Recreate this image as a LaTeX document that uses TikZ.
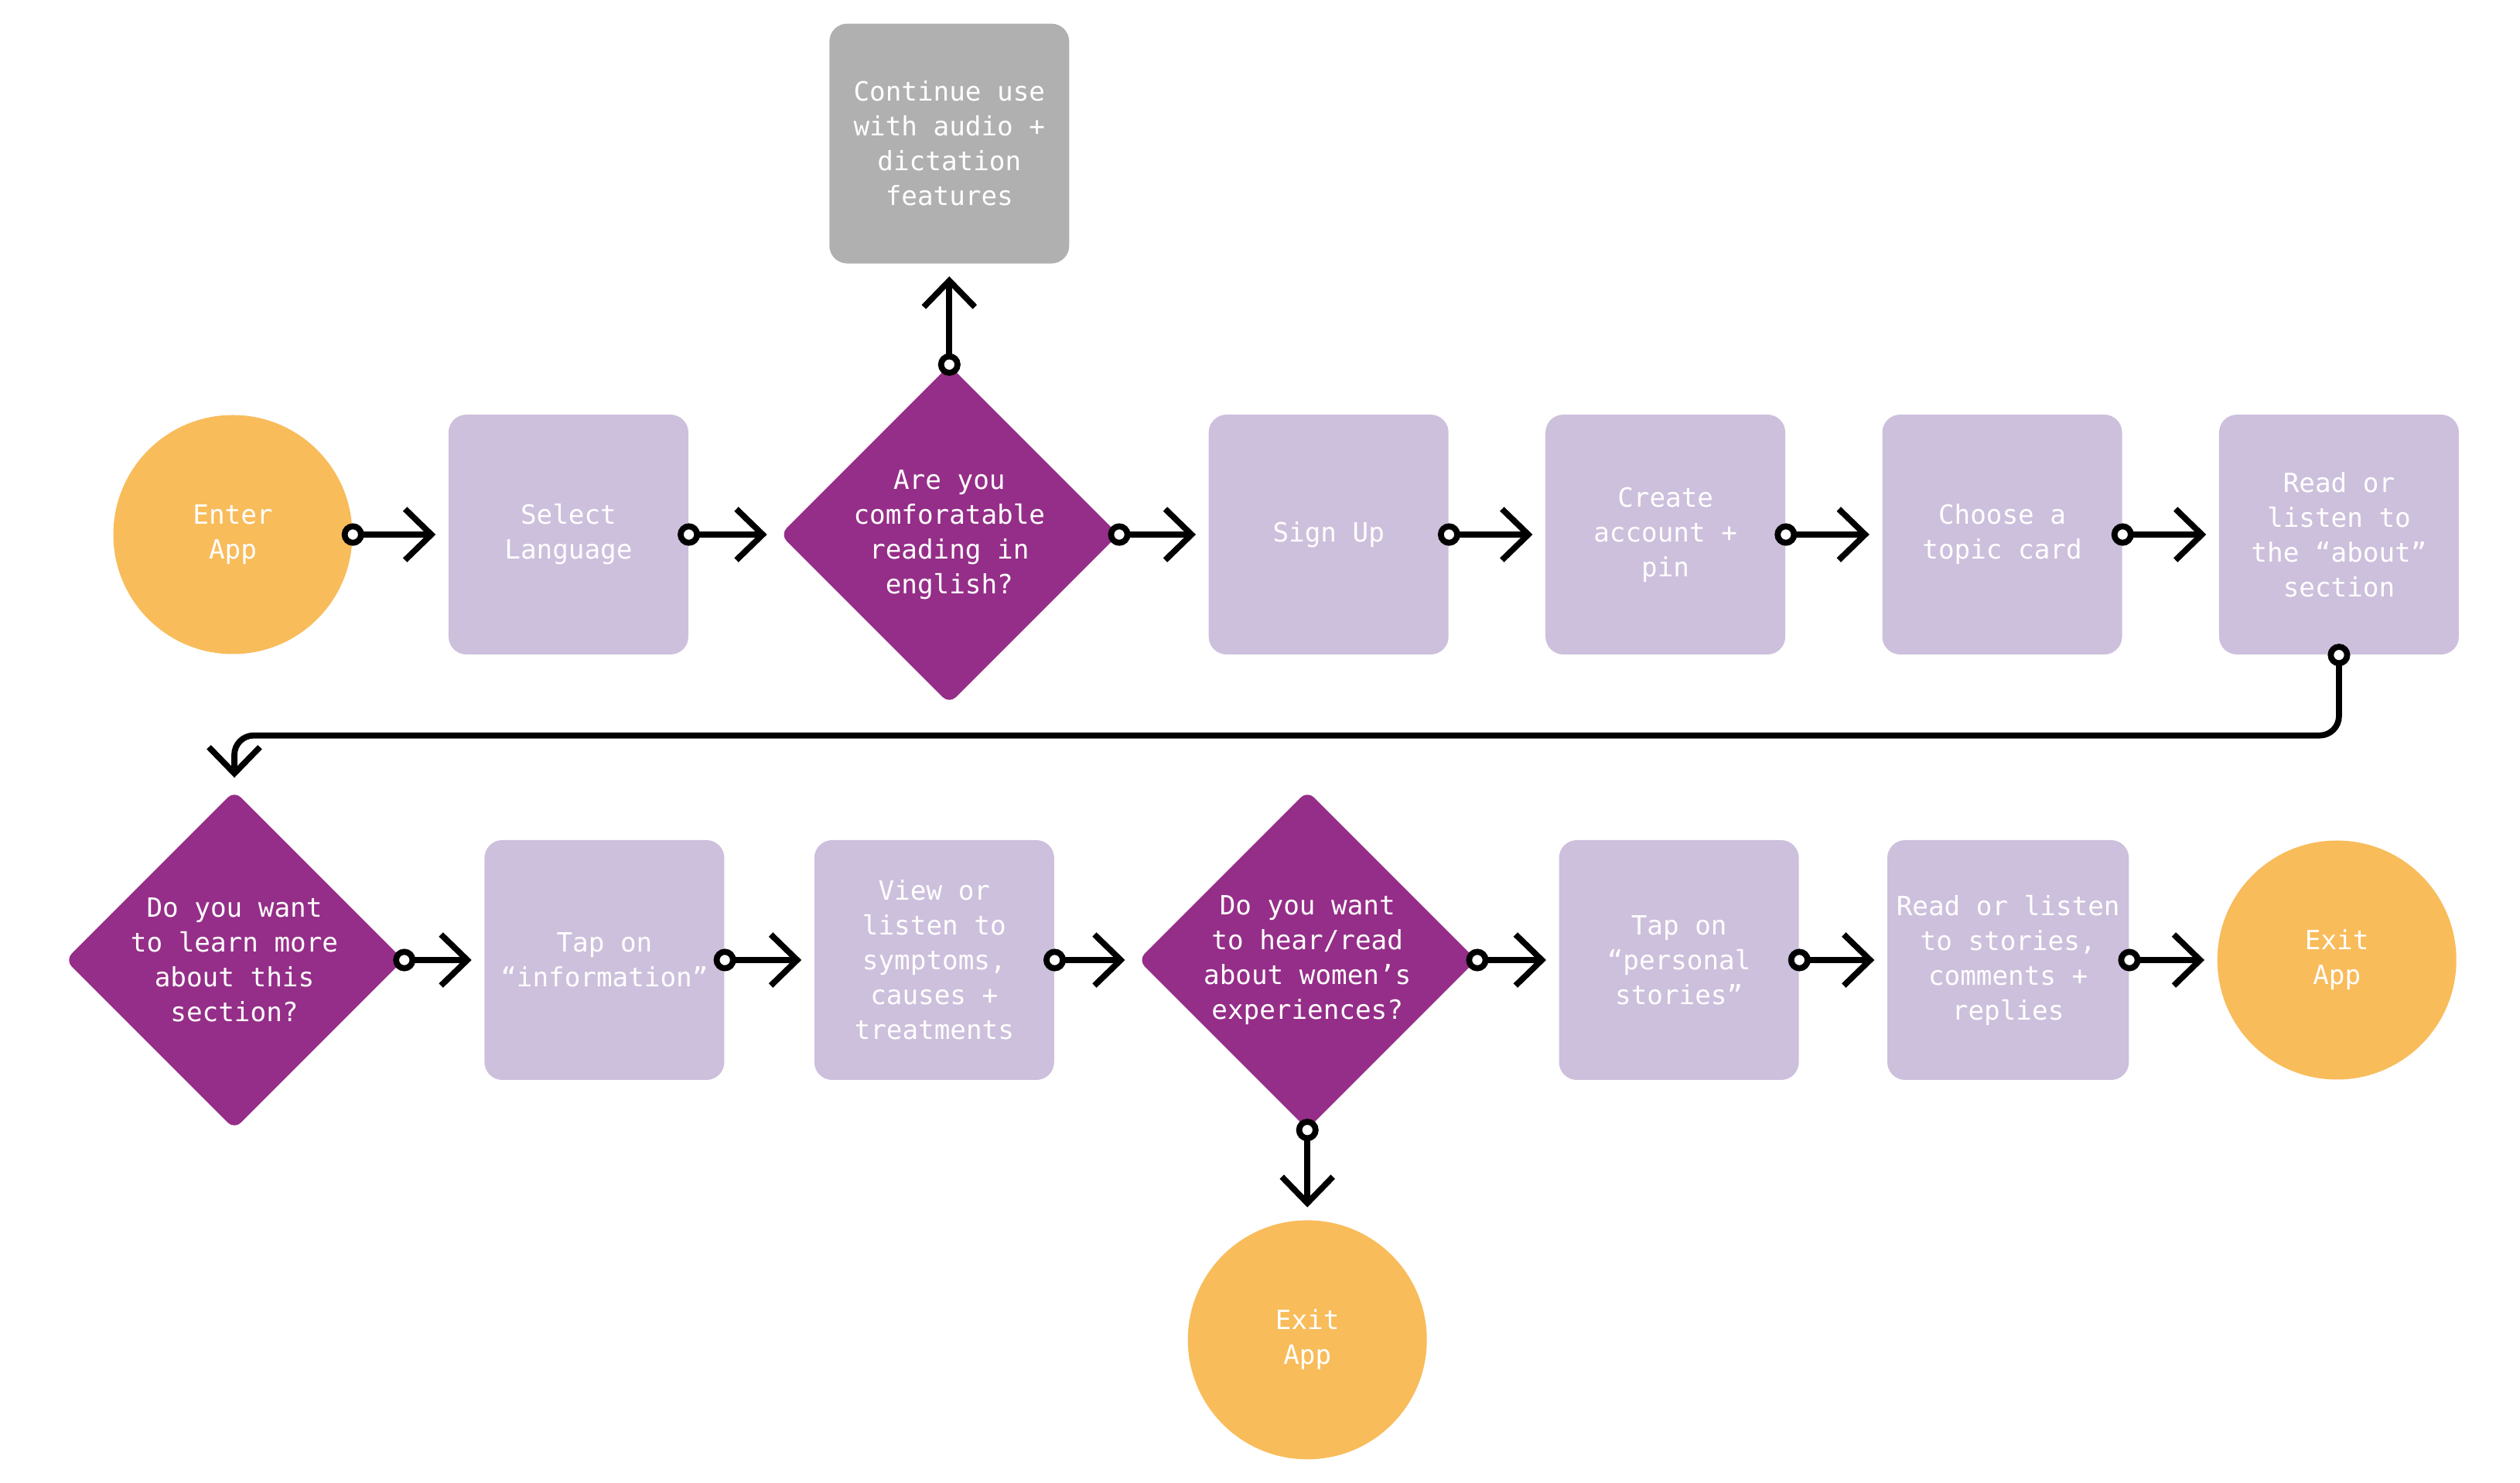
\documentclass[tikz,border=0pt]{standalone}
\usepackage{fontspec}
\setmonofont{DejaVu Sans Mono}
\usepackage{tikz}
\usetikzlibrary{arrows.meta,positioning,shapes.geometric}
\definecolor{appOrange}{HTML}{F8BC5B}
\definecolor{stepLilac}{HTML}{CDC0DC}
\definecolor{askPurple}{HTML}{952E88}
\definecolor{sideGrey}{HTML}{AFB0AF}

\begin{document}
\begin{tikzpicture}[
    node distance=1.24cm,
    font=\ttfamily\fontsize{9.75}{12.8}\selectfont,
    terminal/.style={
		circle,
		fill=appOrange,
		text=white,
		align=center,
		minimum size=3.09cm
	},
    action/.style={
		rectangle,
		rounded corners=0.23cm,
		fill=stepLilac,
		text=white,
		align=center,
		minimum width=3.1cm,
		minimum height=3.1cm
	},
    aside/.style={
		action,
		fill=sideGrey
	},
    decision/.style={
		diamond,
		rounded corners=0.12cm,
		fill=askPurple,
		inner sep=0pt,
		minimum width=4.38cm,
		minimum height=4.38cm
	},
    asktext/.style={
		text=white,
		align=center
	},
    flow/.style={
		line width=2.2pt,
		arrows={Circle[fill=white,length=0.29cm]-Straight Barb[length=0.34cm,width=0.66cm]},
		shorten <=-0.145cm,
		shorten >=0.16cm
	}
  ]
  \useasboundingbox (0,0) rectangle (32.58,19.16);

  % We start by placing the blocks
  \node [terminal] (enter) at (3.01,12.25) {Enter\\App};
  \node [action, right=1.23cm of enter] (language) {Select\\Language};
  \node [decision, right=1.17cm of language,
         label={[asktext]center:Are you\\comforatable\\reading in\\english?}] (english) {};
  \node [aside, above=1.3cm of english] (audio) {Continue use\\with audio +\\dictation\\features};
  \node [action, right=1.15cm of english] (signup) {Sign Up};
  \node [action, right=of signup] (account) {Create\\account +\\pin};
  \node [action, right=of account] (topic) {Choose a\\topic card};
  \node [action, right=of topic] (about) {Read or\\listen to\\the “about”\\section};

  % second row
  \node [decision,
         label={[asktext]center:Do you want\\to learn more\\about this\\section?}] (learn) at (3.03,6.75) {};
  \node [action, right=1.03cm of learn] (info) {Tap on\\“information”};
  \node [action, right=1.15cm of info] (symptoms) {View or\\listen to\\symptoms,\\causes +\\treatments};
  \node [decision, right=1.07cm of symptoms,
         label={[asktext]center:Do you want\\to hear/read\\about women’s\\experiences?}] (hear) {};
  \node [action, right=1.05cm of hear] (personal) {Tap on\\“personal\\stories”};
  \node [action, right=1.13cm of personal] (comments) {Read or listen\\to stories,\\comments +\\replies};
  \node [terminal, right=1.13cm of comments] (exit) {Exit\\App};
  \node [terminal, below=1.16cm of hear] (leave) {Exit\\App};

  \draw [flow] (enter) -- (language);
  \draw [flow] (language) -- (english);
  \draw [flow] (english) -- (audio);
  \draw [flow] (english) -- (signup);
  \draw [flow] (signup) -- (account);
  \draw [flow] (account) -- (topic);
  \draw [flow] (topic) -- (about);
  \draw [flow, rounded corners=0.25cm] (about.south) -- ++(0,-1.04) -| (learn.north);
  \draw [flow] (learn) -- (info);
  \draw [flow] (info) -- (symptoms);
  \draw [flow] (symptoms) -- (hear);
  \draw [flow] (hear) -- (personal);
  \draw [flow] (hear) -- (leave);
  \draw [flow] (personal) -- (comments);
  \draw [flow] (comments) -- (exit);

\end{tikzpicture}
\end{document}
